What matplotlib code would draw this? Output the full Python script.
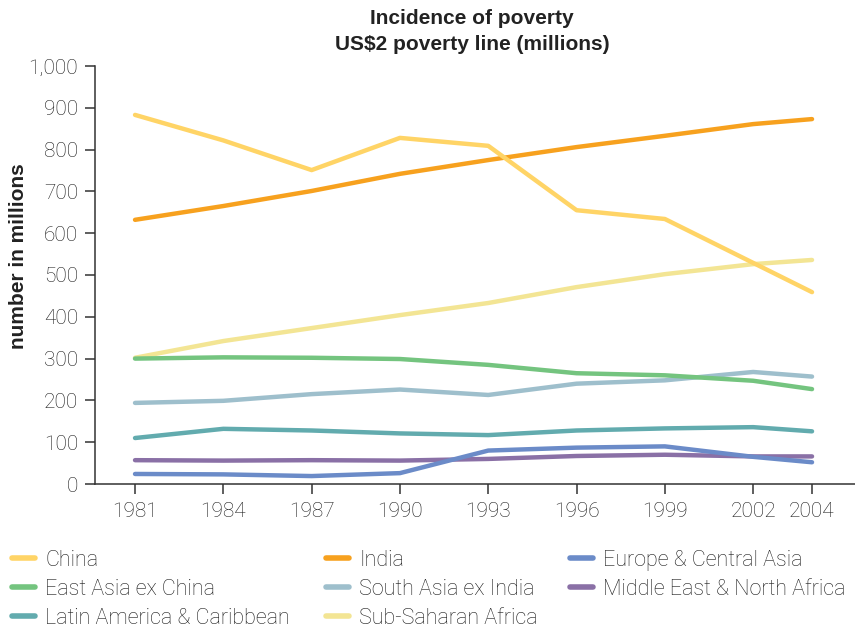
import matplotlib
matplotlib.use("Agg")
import matplotlib.pyplot as plt

plt.rcParams['font.family'] = ['Roboto', 'DejaVu Sans']

years = [1981, 1984, 1987, 1990, 1993, 1996, 1999, 2002, 2004]
china = [883, 822, 751, 828, 809, 655, 634, 529, 459]
india = [632, 665, 701, 742, 775, 806, 833, 861, 873]
europe_ca = [24, 23, 19, 26, 80, 87, 90, 65, 52]
east_asia_ex_china = [300, 303, 302, 299, 285, 265, 260, 247, 227]
south_asia_ex_india = [194, 199, 215, 226, 213, 240, 248, 268, 257]
mena = [57, 56, 57, 56, 60, 67, 70, 66, 66]
latam = [110, 132, 128, 121, 117, 128, 133, 136, 126]
ssa = [302, 342, 373, 404, 433, 471, 502, 526, 536]

series = [
    ("China", china, "#FFD466"),
    ("East Asia ex China", east_asia_ex_china, "#74C47F"),
    ("Latin America & Caribbean", latam, "#62ABAE"),
    ("India", india, "#F7A11E"),
    ("South Asia ex India", south_asia_ex_india, "#9EBFCC"),
    ("Sub-Saharan Africa", ssa, "#F3E594"),
    ("Europe & Central Asia", europe_ca, "#6B8BC8"),
    ("Middle East & North Africa", mena, "#8A70A6"),
]
draw_order = ["Sub-Saharan Africa", "South Asia ex India", "East Asia ex China",
              "Latin America & Caribbean", "Middle East & North Africa",
              "Europe & Central Asia", "India", "China"]

fig = plt.figure(figsize=(8.55, 6.3), dpi=100)
ax = fig.add_axes([95/855, 1-484/630, 1-95/855, (484-66)/630])

handles = {}
for name, vals, col in series:
    z = 2 + draw_order.index(name)
    ln, = ax.plot(years, vals, color=col, lw=3.2, solid_capstyle='round',
                  solid_joinstyle='round', label=name, zorder=z)
    handles[name] = ln

ax.set_xlim(1979.64, 2005.46)
ax.set_ylim(0, 1000)
ax.set_xticks(years)
ax.set_xticklabels([str(y) for y in years])
ax.set_yticks(range(0, 1001, 100))
ax.set_yticklabels([f"{v:,}" for v in range(0, 1001, 100)])
for s in ['top', 'right']:
    ax.spines[s].set_visible(False)
for s in ['left', 'bottom']:
    ax.spines[s].set_color('#333333')
    ax.spines[s].set_linewidth(1.1)
ax.tick_params(axis='both', direction='out', length=7.2, width=1.1, color='#333333',
               labelsize=15, labelcolor='#1a1a1a')
ax.tick_params(axis='y', pad=5)
ax.tick_params(axis='x', pad=6)
for lbl in ax.get_xticklabels() + ax.get_yticklabels():
    lbl.set_fontweight('light')

fig.text(19/855, 1-256/630, "number in millions", rotation=90, ha='center', va='center',
         fontsize=15, fontweight='bold', color='#222222',
         family=['Liberation Sans', 'DejaVu Sans'])

fig.text(472/855, 1-18/630, "Incidence of poverty", ha='center', va='center',
         fontsize=15, fontweight='bold', color='#222222',
         family=['Liberation Sans', 'DejaVu Sans'])
fig.text(472/855, 1-44/630, "US$2 poverty line (millions)", ha='center', va='center',
         fontsize=15, fontweight='bold', color='#222222',
         family=['Liberation Sans', 'DejaVu Sans'])

names = [s[0] for s in series]
columns = [names[0:3], names[3:6], names[6:8]]
col_x = [12, 326, 570]
for cx, cnames in zip(col_x, columns):
    leg = fig.legend([handles[n] for n in cnames], cnames, ncol=1,
                     loc='upper left', bbox_to_anchor=(cx/855, 1-550/630),
                     frameon=False, fontsize=15.5, handlelength=1.07, handletextpad=0.47,
                     labelspacing=0.36, borderaxespad=0, borderpad=0)
    for t in leg.get_texts():
        t.set_fontweight('light')
        t.set_color('#1a1a1a')
    for l in leg.get_lines():
        l.set_linewidth(4.0)
        l.set_solid_capstyle('round')

fig.savefig("out.png", dpi=100)
